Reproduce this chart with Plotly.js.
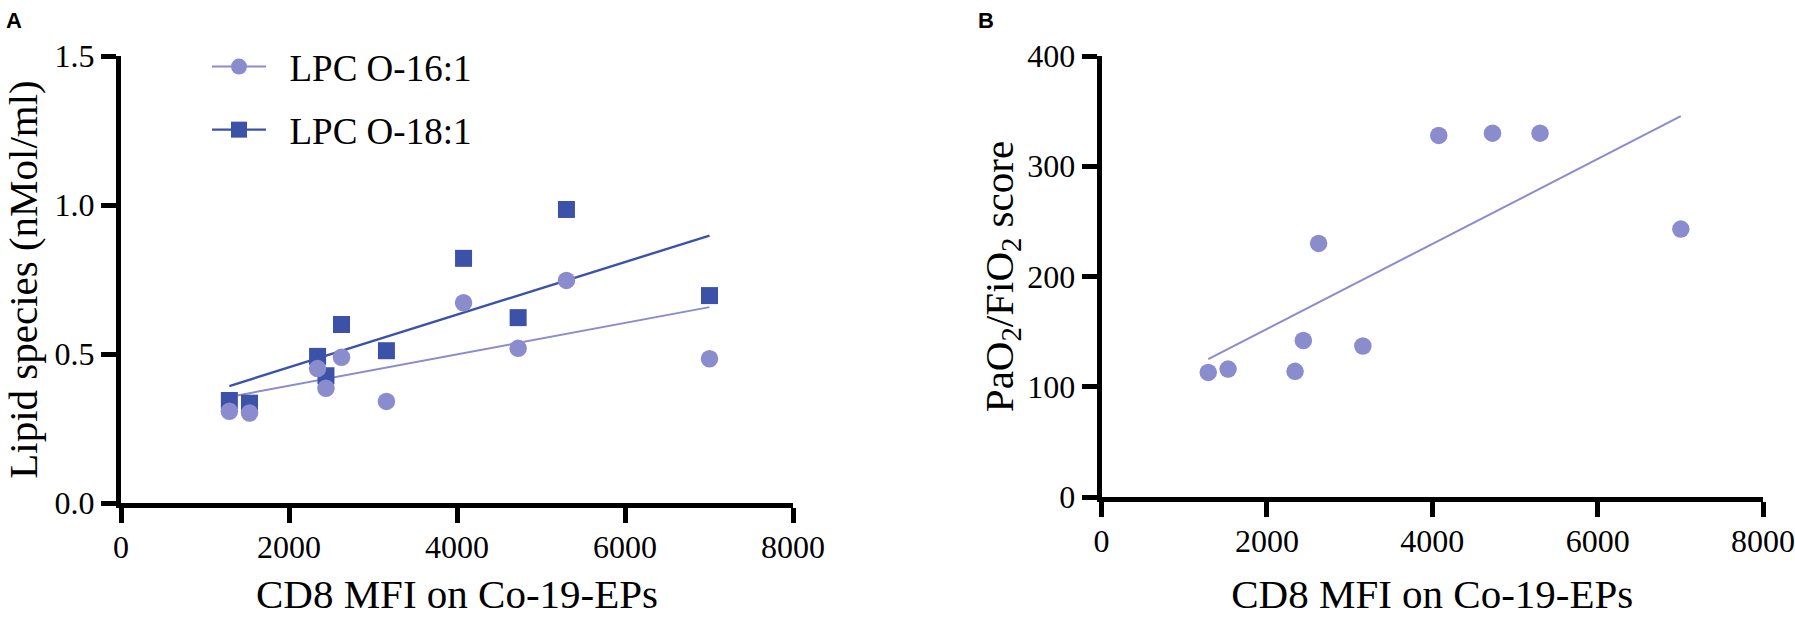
<!DOCTYPE html>
<html><head><meta charset="utf-8">
<script src="https://cdn.plot.ly/plotly-3.0.1.min.js"></script>
<style>html,body{margin:0;padding:0;background:#fff;}#chart{width:1795px;height:617px;}</style>
</head><body><div id="chart"></div>
<script>
// ---- data ----
const cd8MFI  = [1290, 1530, 2340, 2440, 2625, 3160, 4078, 4728, 5303, 7006];
const lpcO161 = [0.308, 0.302, 0.451, 0.385, 0.489, 0.341, 0.672, 0.519, 0.747, 0.484];
const lpcO181 = [0.344, 0.335, 0.492, 0.427, 0.599, 0.511, 0.821, 0.622, 0.985, 0.696];
const pfScore = [113, 116, 114, 142, 230, 137, 328, 330, 330, 243];
const seriesNames = ['LPC O-16:1', 'LPC O-18:1'];
const xTicks  = [0, 2000, 4000, 6000, 8000];
const yTicksA = [0, 0.5, 1.0, 1.5];
const yTicksB = [0, 100, 200, 300, 400];

// ---- styling ----
const cLight = '#8a8cce';
const cDark  = '#3b52a8';
const serif = 'Liberation Serif';
const W = 1795, H = 617;

function linFit(xs, ys) {
  const n = xs.length;
  const mx = xs.reduce((a, b) => a + b, 0) / n;
  const my = ys.reduce((a, b) => a + b, 0) / n;
  let sxy = 0, sxx = 0;
  for (let i = 0; i < n; i++) { sxy += (xs[i] - mx) * (ys[i] - my); sxx += (xs[i] - mx) ** 2; }
  const slope = sxy / sxx, icpt = my - slope * mx;
  const x0 = Math.min(...xs), x1 = Math.max(...xs);
  return { x: [x0, x1], y: [icpt + slope * x0, icpt + slope * x1] };
}

const f161 = linFit(cd8MFI, lpcO161);
const f181 = linFit(cd8MFI, lpcO181);
const fPF  = linFit(cd8MFI, pfScore);
const clear = 'rgba(0,0,0,0)';

const traces = [
  // fit lines (also carry the legend entries: first marker colour is used by the legend)
  { x: [null].concat(f181.x), y: [null].concat(f181.y), xaxis: 'x', yaxis: 'y', mode: 'lines+markers',
    name: '\u00a0\u00a0' + seriesNames[1], legendrank: 2, legendgroup: 'b', hoverinfo: 'skip',
    line: { color: cDark, width: 2.4 },
    marker: { symbol: 'square', size: 17, color: [cDark, clear, clear] } },
  { x: [null].concat(f161.x), y: [null].concat(f161.y), xaxis: 'x', yaxis: 'y', mode: 'lines+markers',
    name: '\u00a0\u00a0' + seriesNames[0], legendrank: 1, legendgroup: 'a', hoverinfo: 'skip',
    line: { color: cLight, width: 2 },
    marker: { symbol: 'circle', size: 17, color: [cLight, clear, clear] } },
  { x: cd8MFI, y: lpcO181, xaxis: 'x', yaxis: 'y', mode: 'markers', showlegend: false,
    marker: { symbol: 'square', size: 17, color: cDark } },
  { x: cd8MFI, y: lpcO161, xaxis: 'x', yaxis: 'y', mode: 'markers', showlegend: false,
    marker: { symbol: 'circle', size: 17.5, color: cLight } },
  { x: fPF.x, y: fPF.y, xaxis: 'x2', yaxis: 'y2', mode: 'lines', showlegend: false,
    line: { color: cLight, width: 2 } },
  { x: cd8MFI, y: pfScore, xaxis: 'x2', yaxis: 'y2', mode: 'markers', showlegend: false,
    marker: { symbol: 'circle', size: 17.5, color: cLight } }
];

const axBase = {
  showline: true, linecolor: '#000', linewidth: 5, mirror: false,
  ticks: 'outside', ticklen: 15, tickwidth: 5, tickcolor: '#000',
  showgrid: false, zeroline: false, automargin: false, fixedrange: true,
  tickfont: { family: serif, size: 32, color: '#000' }
};
const titleFont = { family: serif, size: 41, color: '#000' };

const layout = {
  width: W, height: H, autosize: false,
  font: { family: serif, color: '#000' },
  margin: { l: 0, r: 0, t: 0, b: 0 },
  paper_bgcolor: '#fff', plot_bgcolor: '#fff',
  showlegend: true,
  legend: {
    x: 207 / W, y: 1 - 36 / H, xanchor: 'left', yanchor: 'top',
    font: { family: serif, size: 37, color: '#000' },
    bgcolor: clear, borderwidth: 0, itemwidth: 54,
    traceorder: 'grouped', tracegroupgap: 12
  },
  xaxis: Object.assign({}, axBase, {
    domain: [121 / W, 793 / W], range: [0, 8000], tickvals: xTicks, anchor: 'y',
    ticklabelstandoff: -3,
    title: { text: 'CD8 MFI on Co-19-EPs', font: titleFont, standoff: 50 }
  }),
  yaxis: Object.assign({}, axBase, {
    domain: [1 - 503 / H, 1 - 56 / H], range: [0, 1.5], tickvals: yTicksA, tickformat: '.1f', anchor: 'x',
    title: { text: 'Lipid species (nMol/ml)', font: titleFont, standoff: 6 }
  }),
  xaxis2: Object.assign({}, axBase, {
    domain: [1101.6 / W, 1763 / W], range: [0, 8000], tickvals: xTicks, anchor: 'y2',
    ticklabelstandoff: -3,
    title: { text: 'CD8 MFI on Co-19-EPs', font: titleFont, standoff: 50 }
  }),
  yaxis2: Object.assign({}, axBase, {
    domain: [1 - 497 / H, 1 - 56 / H], range: [0, 400], tickvals: yTicksB, anchor: 'x2',
    title: { text: 'PaO<sub>2</sub>/FiO<sub>2</sub> score', font: titleFont, standoff: 0 }
  }),
  annotations: [
    { text: '<b>A</b>', xref: 'paper', yref: 'paper', x: 4 / W, y: 1 - 6 / H, xanchor: 'left', yanchor: 'top',
      showarrow: false, font: { family: 'Liberation Sans', size: 22, color: '#000' } },
    { text: '<b>B</b>', xref: 'paper', yref: 'paper', x: 976 / W, y: 1 - 6 / H, xanchor: 'left', yanchor: 'top',
      showarrow: false, font: { family: 'Liberation Sans', size: 22, color: '#000' } }
  ]
};

Plotly.newPlot('chart', traces, layout, { displayModeBar: false, staticPlot: true });
</script>
</body></html>
